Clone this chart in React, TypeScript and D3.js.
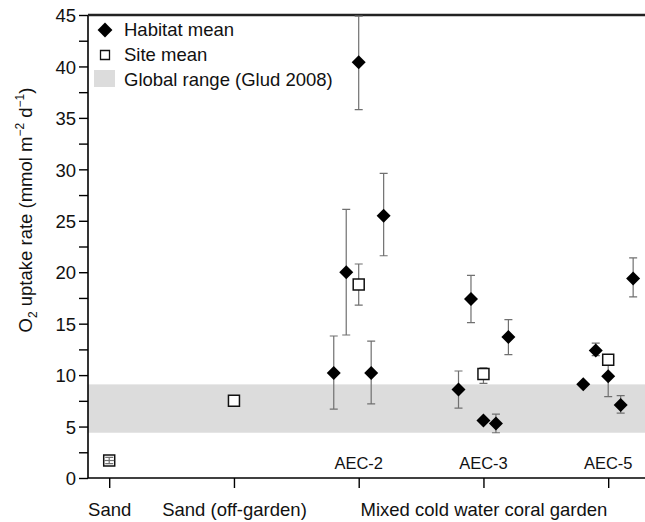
import React, { useEffect, useRef } from 'react';
import * as d3 from 'd3';

// x categories (positions 1..5)
const categories = ['Sand', 'Sand (off-garden)', 'AEC-2', 'AEC-3', 'AEC-5'];
const bottomLabels = ['Sand', 'Sand (off-garden)', '', 'Mixed cold water coral garden', ''];
const insideLabels = ['', '', 'AEC-2', 'AEC-3', 'AEC-5'];

// habitat means: [category index (1-based), offset, mean, low, high]
const habitatMeans: [number, number, number, number | null, number | null][] = [
  [3, -0.2, 10.2, 6.7, 13.8],
  [3, -0.1, 20.0, 13.9, 26.1],
  [3, 0, 40.4, 35.8, 44.9],
  [3, 0.1, 10.2, 7.2, 13.3],
  [3, 0.2, 25.5, 21.6, 29.6],
  [4, -0.2, 8.6, 6.8, 10.4],
  [4, -0.1, 17.4, 15.1, 19.7],
  [4, 0, 5.6, null, null],
  [4, 0.1, 5.3, 4.4, 6.2],
  [4, 0.2, 13.7, 12.0, 15.4],
  [5, -0.2, 9.1, null, null],
  [5, -0.1, 12.4, 11.9, 13.1],
  [5, 0, 9.9, 7.9, 11.8],
  [5, 0.1, 7.1, 6.3, 8.0],
  [5, 0.2, 19.4, 17.6, 21.4],
];

// site means: [category index, mean, low, high]
const siteMeans: [number, number, number | null, number | null][] = [
  [1, 1.7, 1.4, 2.0],
  [2, 7.5, null, null],
  [3, 18.8, 16.8, 20.8],
  [4, 10.1, 9.2, 10.7],
  [5, 11.5, null, null],
];

const globalRange = [4.4, 9.1];
const yTicks = [0, 5, 10, 15, 20, 25, 30, 35, 40, 45];

const App: React.FC = () => {
  const ref = useRef<SVGSVGElement>(null);

  useEffect(() => {
    if (!ref.current) return;
    const svg = d3.select(ref.current);
    svg.selectAll('*').remove();

    const left = 88, right = 645, top = 15, bottom = 478;
    const font = 'Liberation Sans, Arial, sans-serif';

    const x = d3.scaleLinear().domain([0.83, 5.295]).range([left, right]);
    const y = d3.scaleLinear().domain([0, 45]).range([bottom, top]);

    const bandColor = '#dcdcdc';
    const errColor = '#707070';

    // global range band
    svg.append('rect')
      .attr('x', left)
      .attr('width', right - left)
      .attr('y', y(globalRange[1]))
      .attr('height', y(globalRange[0]) - y(globalRange[1]))
      .attr('fill', bandColor);

    // axes
    const yAxis = svg.append('g')
      .attr('transform', `translate(${left},0)`)
      .call(d3.axisLeft(y).tickValues(d3.range(0, 45.1, 2.5)).tickSize(9)
        .tickFormat((d) => (yTicks.includes(+d) ? String(d) : '')));
    yAxis.select('.domain').attr('stroke-width', 1.6).attr('d', `M0,${bottom}V${top}`);
    yAxis.selectAll('.tick line').attr('stroke-width', 1.4);
    yAxis.selectAll('text')
      .attr('font-family', font)
      .attr('font-size', 18.5)
      .attr('fill', '#111')
      .attr('x', -12)
      .attr('dy', '0.36em');

    const xAxis = svg.append('g')
      .attr('transform', `translate(0,${bottom})`)
      .call(d3.axisBottom(x).tickValues([1, 2, 3, 4, 5]).tickSize(10)
        .tickFormat((d) => bottomLabels[+d - 1]));
    xAxis.select('.domain').attr('stroke-width', 1.6).attr('d', `M${left},0H${right}`);
    xAxis.selectAll('.tick line').attr('stroke-width', 1.4);
    xAxis.selectAll('text')
      .attr('font-family', font)
      .attr('font-size', 18.5)
      .attr('fill', '#111')
      .attr('y', 38)
      .attr('dy', 0);

    // top frame line
    svg.append('line')
      .attr('x1', left).attr('x2', right)
      .attr('y1', top).attr('y2', top)
      .attr('stroke', '#222').attr('stroke-width', 2.4);

    // AEC labels inside plot
    svg.append('g').selectAll('text')
      .data(insideLabels.map((l, i) => ({ l, i })).filter((d) => d.l))
      .join('text')
      .attr('x', (d) => x(d.i + 1))
      .attr('y', bottom - 9)
      .attr('text-anchor', 'middle')
      .attr('font-family', font)
      .attr('font-size', 16.5)
      .attr('fill', '#111')
      .text((d) => d.l);

    const cap = 4;
    const drawErr = (g: d3.Selection<SVGGElement, unknown, null, undefined>, cx: number, lo: number, hi: number) => {
      g.append('path')
        .attr('d', `M${cx},${y(lo)}V${y(hi)}M${cx - cap},${y(lo)}H${cx + cap}M${cx - cap},${y(hi)}H${cx + cap}`)
        .attr('stroke', errColor)
        .attr('stroke-width', 1.2)
        .attr('fill', 'none');
    };

    const errG = svg.append('g');
    habitatMeans.forEach(([c, off, , lo, hi]) => {
      if (lo != null && hi != null) drawErr(errG, x(c + off), lo, hi);
    });
    siteMeans.forEach(([c, m, lo, hi]) => {
      if (lo != null && hi != null && y(lo) - y(hi) > 12) drawErr(errG, x(c), lo, hi);
    });

    const diamond = d3.symbol(d3.symbolSquare, 98);
    const square = d3.symbol(d3.symbolSquare, 121);

    svg.append('g').selectAll('path')
      .data(habitatMeans)
      .join('path')
      .attr('d', diamond)
      .attr('transform', (d) => `translate(${x(d[0] + d[1])},${y(d[2])}) rotate(45)`)
      .attr('fill', '#000');

    svg.append('g').selectAll('path')
      .data(siteMeans)
      .join('path')
      .attr('d', square)
      .attr('transform', (d) => `translate(${x(d[0])},${y(d[1])})`)
      .attr('fill', '#fff')
      .attr('stroke', '#111')
      .attr('stroke-width', 1.5);

    // small error bars that fit inside the square are drawn on top
    const innerG = svg.append('g');
    siteMeans.forEach(([c, m, lo, hi]) => {
      if (lo != null && hi != null && y(lo) - y(hi) <= 12) {
        drawErr(innerG, x(c), lo, hi);
        innerG.append('line')
          .attr('x1', x(c) - 5).attr('x2', x(c) + 5)
          .attr('y1', y(m)).attr('y2', y(m))
          .attr('stroke', errColor).attr('stroke-width', 1.2);
      }
    });

    // legend
    const lg = svg.append('g').attr('font-family', font).attr('font-size', 18.5).attr('fill', '#111');
    lg.append('path').attr('d', d3.symbol(d3.symbolSquare, 110)).attr('transform', 'translate(105,30) rotate(45)').attr('fill', '#000');
    lg.append('text').attr('x', 124).attr('y', 36).text('Habitat mean');
    lg.append('path').attr('d', d3.symbol(d3.symbolSquare, 81)).attr('transform', 'translate(105,55)')
      .attr('fill', '#fff').attr('stroke', '#111').attr('stroke-width', 1.3);
    lg.append('text').attr('x', 124).attr('y', 61).text('Site mean');
    lg.append('rect').attr('x', 94).attr('y', 70).attr('width', 21).attr('height', 17).attr('fill', bandColor);
    lg.append('text').attr('x', 124).attr('y', 86).text('Global range (Glud 2008)');

    // y axis title
    const t = svg.append('text')
      .attr('transform', 'translate(32,210) rotate(-90)')
      .attr('text-anchor', 'middle')
      .attr('font-family', font)
      .attr('font-size', 18.5)
      .attr('fill', '#111');
    t.append('tspan').text('O');
    t.append('tspan').attr('font-size', 12).attr('dy', 5).text('2');
    t.append('tspan').attr('dy', -5).text(' uptake rate (mmol m');
    t.append('tspan').attr('font-size', 12).attr('dy', -8).text('\u22122');
    t.append('tspan').attr('dy', 8).text(' d');
    t.append('tspan').attr('font-size', 12).attr('dy', -8).text('\u22121');
    t.append('tspan').attr('dy', 8).text(')');
  }, []);

  return (
    <div style={{ position: 'fixed', left: 0, top: 0, width: 645, height: 522, overflow: 'hidden', background: '#fff' }}>
      <svg ref={ref} width={645} height={522} style={{ display: 'block' }} />
    </div>
  );
};

export default App;
